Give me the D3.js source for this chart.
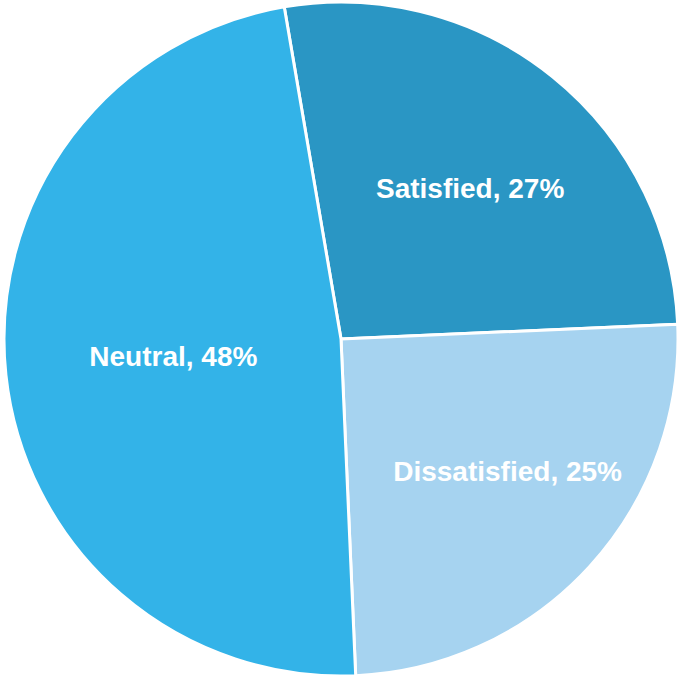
<!DOCTYPE html>
<html>
<head>
<meta charset="utf-8">
<script src="https://cdn.jsdelivr.net/npm/d3@7"></script>
<style>
  html, body { margin: 0; padding: 0; background: #fff; }
  svg { display: block; }
</style>
</head>
<body>
<div id="chart"></div>
<script>
const categories = ["Satisfied", "Dissatisfied", "Neutral"];
const values = [27, 25, 48];
const colors = ["#2A96C4", "#A6D3F0", "#33B3E8"];

(() => {
    const width = 679, height = 677;
    const cx = 341, cy = 339, radius = 337;
    const start = -9.7 * Math.PI / 180;
    // label placement: distance as share of radius, angle nudge in degrees
    const labelR = [0.59, 0.63, 0.50];
    const labelNudge = [1.6, -4.2, 0.3];

    const data = categories.map((c, i) => ({ name: c, value: values[i] }));

    const pie = d3.pie()
        .value(d => d.value)
        .sort(null)
        .startAngle(start)
        .endAngle(start + 2 * Math.PI);

    const arc = d3.arc().innerRadius(0).outerRadius(radius);

    const svg = d3.select("#chart")
        .append("svg")
        .attr("width", width)
        .attr("height", height);

    const g = svg.append("g")
        .attr("transform", `translate(${cx},${cy})`);

    const arcs = pie(data);

    g.selectAll(".slice")
        .data(arcs)
        .enter()
        .append("path")
        .attr("class", "slice")
        .attr("d", arc)
        .attr("fill", (d, i) => colors[i])
        .attr("stroke", "#fff")
        .attr("stroke-width", 3)
        .attr("stroke-linejoin", "round");

    const fontSize = 28;
    g.selectAll(".label")
        .data(arcs)
        .enter()
        .append("text")
        .attr("class", "label")
        .attr("transform", (d, i) => {
            const a = (d.startAngle + d.endAngle) / 2 + labelNudge[i] * Math.PI / 180;
            const r = radius * labelR[i];
            return `translate(${r * Math.sin(a)},${-r * Math.cos(a) + fontSize * 0.36})`;
        })
        .attr("text-anchor", "middle")
        .style("font-family", "'Liberation Sans', Arial, sans-serif")
        .style("font-weight", "bold")
        .style("font-size", fontSize + "px")
        .style("fill", "#fff")
        .text(d => `${d.data.name}, ${d.data.value}%`);
})();
</script>
</body>
</html>
